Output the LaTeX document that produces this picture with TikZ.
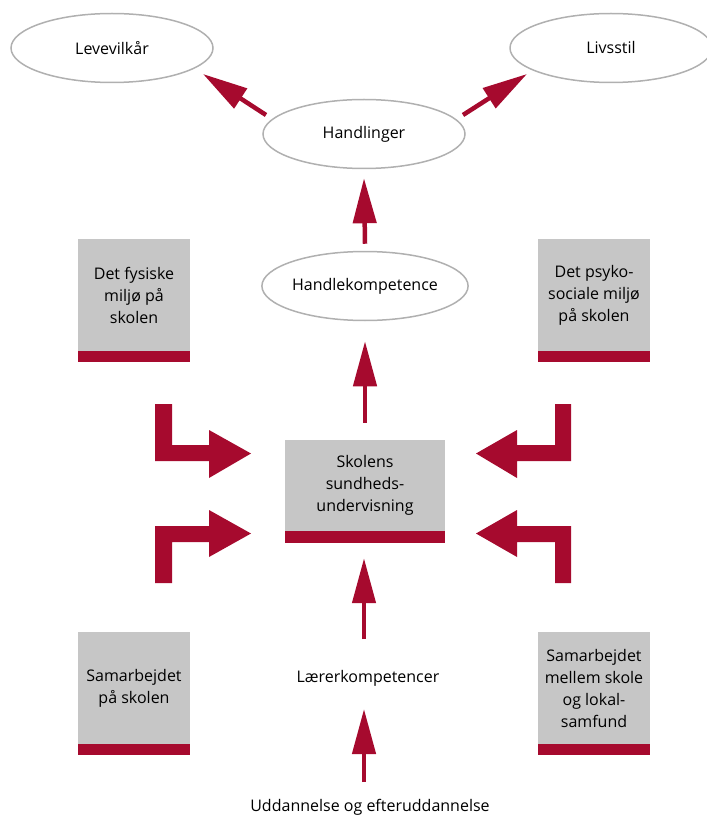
\documentclass[tikz,border=0pt]{standalone}
\usepackage{fontspec}
\setmainfont{Open Sans}
\usetikzlibrary{shapes.geometric,arrows.meta,calc}
\definecolor{crim}{HTML}{A60A2E}
\definecolor{boxgray}{HTML}{C6C6C6}
\definecolor{ellgray}{HTML}{B0B0B0}
\begin{document}
\begin{tikzpicture}[x=1pt,y=-1pt,
  every node/.style={font=\fontsize{16}{22}\selectfont, text=black},
  oval/.style={ellipse, draw=ellgray, line width=1.5pt, fill=white, minimum width=202pt, minimum height=69pt, inner sep=0pt},
  grbox/.style={fill=boxgray, minimum width=112pt, minimum height=112pt, inner sep=0pt, align=center},
  arr/.style={draw=crim, line width=4.5pt, -{Triangle[length=45pt,width=23pt]}},
  bent/.style={fill=crim}]
\useasboundingbox (0,0) rectangle (706,818);

% ellipses
\node[oval] (lev) at (112,48) {Levevilkår};
\node[oval] (liv) at (611,48) {Livsstil};
\node[oval] (hand) at (364,134) {Handlinger};
\node[oval, minimum width=205pt] (hk) at (365,286) {Handlekompetence};

% boxes
\node[grbox] (fys) at (134,295) {Det fysiske\\miljø på\\skolen};
\fill[crim] (fys.south west) rectangle ++(112,11);
\node[grbox] (psy) at (594,295) {Det psyko-\\sociale miljø\\på skolen};
\fill[crim] (psy.south west) rectangle ++(112,11);
\node[grbox] (sam) at (134,688) {Samarbejdet\\på skolen};
\fill[crim] (sam.south west) rectangle ++(112,11);
\node[grbox] (lok) at (594,688) {Samarbejdet\\mellem skole\\og lokal-\\samfund};
\fill[crim] (lok.south west) rectangle ++(112,11);
\node[grbox, minimum width=160pt, minimum height=91pt] (sk) at (365,485.5) {Skolens\\sundheds-\\undervisning};
\fill[crim] (sk.south west) rectangle ++(160,12);

% plain texts
\node (ler) at (368,678) {Lærerkompetencer};
\node (udd) at (370,807) {Uddannelse og efteruddannelse};

% diagonal arrows
\coordinate (t1) at (266,115);
\coordinate (h1) at (203,74);
\coordinate (t2) at (463,115);
\coordinate (h2) at (527,74);
\draw[arr] (t1) -- (h1);
\draw[arr] (t2) -- (h2);

% vertical arrows
\draw[arr] ($(hk.north)+(0,-7)$) -- ($(hand.south)+(0,9)$);
\draw[arr] ($(sk.north)+(0,-17)$) -- ($(hk.south)+(0,20)$);
\draw[arr] ($(ler.center)+(-4,-39)$) -- ($(sk.south)+(-1,27)$);
\draw[arr] ($(udd.center)+(-6,-25)$) -- ($(ler.center)+(-4,31)$);

% bent arrows (left)
\fill[bent] (155,404) -- (172,404) -- (172,445) -- (209,445) -- (209,430) -- (251,453.5) -- (209,478) -- (209,461) -- (155,461) -- cycle;
\fill[bent] (155,583) -- (172,583) -- (172,542) -- (209,542) -- (209,557) -- (251,533.5) -- (209,510) -- (209,526) -- (155,526) -- cycle;
% bent arrows (right)
\fill[bent] (571,404) -- (555,404) -- (555,445) -- (517,445) -- (517,430) -- (476,453.5) -- (517,478) -- (517,461) -- (571,461) -- cycle;
\fill[bent] (571,583) -- (555,583) -- (555,542) -- (517,542) -- (517,557) -- (476,533.5) -- (517,510) -- (517,526) -- (571,526) -- cycle;
\end{tikzpicture}
\end{document}
